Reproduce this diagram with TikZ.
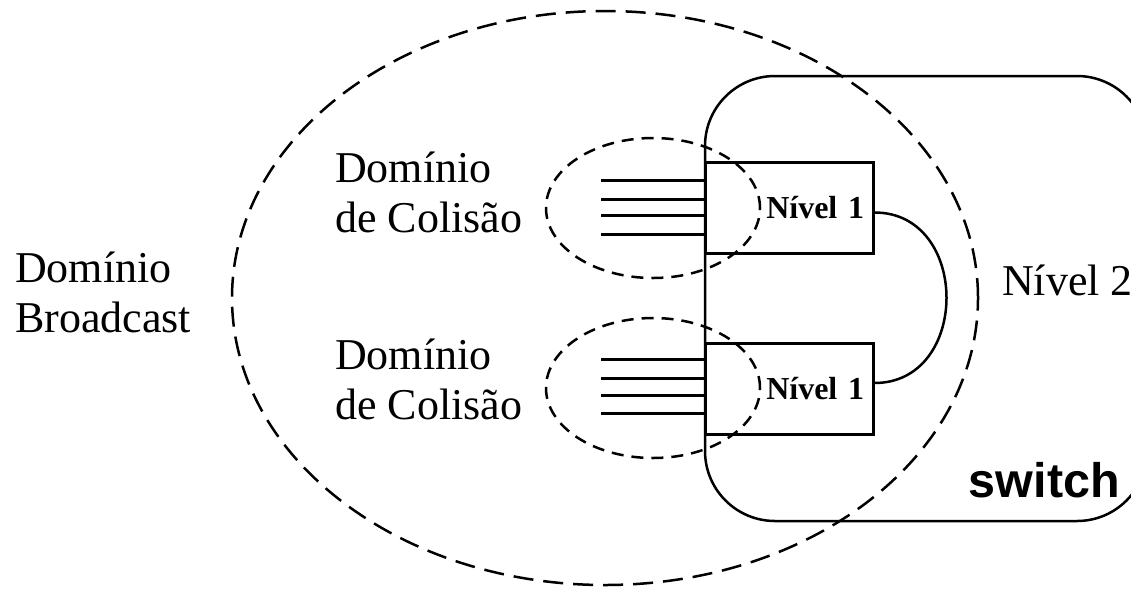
\documentclass[tikz,border=0pt]{standalone}
\usepackage{fontspec}
\setmainfont{Liberation Serif}
\setsansfont{Liberation Sans}
\usetikzlibrary{positioning}
\tikzset{
  nivelbox/.style={draw, line width=3pt, minimum height=91pt, text width=150pt,
    inner xsep=9pt, align=right, font=\fontsize{32}{36}\selectfont\bfseries},
  bigdash/.style={line width=2.5pt, dash pattern=on 20pt off 10pt},
  smalldash/.style={line width=2.5pt, dash pattern=on 12pt off 8pt},
  rotulo/.style={align=left, font=\fontsize{44}{50}\selectfont, inner sep=0pt}
}
\begin{document}
\begin{tikzpicture}[x=1pt,y=1pt]
  \useasboundingbox (0,0) rectangle (1131,-590);
  % switch
  \draw [line width=2.5pt, rounded corners=70pt] (705,-76) rectangle (1147,-521);
  \node [anchor=base east, inner sep=0pt, font=\fontsize{48.5}{50}\sffamily\bfseries] (sw) at (1120,-497) {switch};
  % dominio broadcast
  \draw [bigdash] (605,-298) ellipse (373 and 287);
  % dominios de colisao
  \draw [smalldash] (653,-208) ellipse (107 and 70);
  \draw [smalldash] (653,-388) ellipse (107 and 70);
  % hubs nivel 1
  \node [nivelbox, fill=none] (n1a) at (789,-207.5) {Nível 1};
  \node [nivelbox] (n1b) at (789,-389) {Nível 1};
  \foreach \dy in {27,8,-8,-27}
    \draw [line width=3pt] ([yshift=\dy]n1a.west) -- ++(-103,0);
  \foreach \dy in {30,11,-6,-24}
    \draw [line width=3pt] ([yshift=\dy]n1b.west) -- ++(-103,0);
  \draw [line width=2.5pt] ([yshift=-5]n1a.east) .. controls +(96,0) and +(96,0) .. ([yshift=6]n1b.east);
  % textos
  \node [rotulo, anchor=north west] (bc) at (15,-252) {Domínio\\Broadcast};
  \node [rotulo, anchor=north west] (col1) at (335,-152) {Domínio\\de Colisão};
  \node [rotulo, anchor=north west] (col2) at (335,-339) {Domínio\\de Colisão};
  \node [rotulo, anchor=base west] (n2) at (1002,-295) {Nível 2};
\end{tikzpicture}
\end{document}
